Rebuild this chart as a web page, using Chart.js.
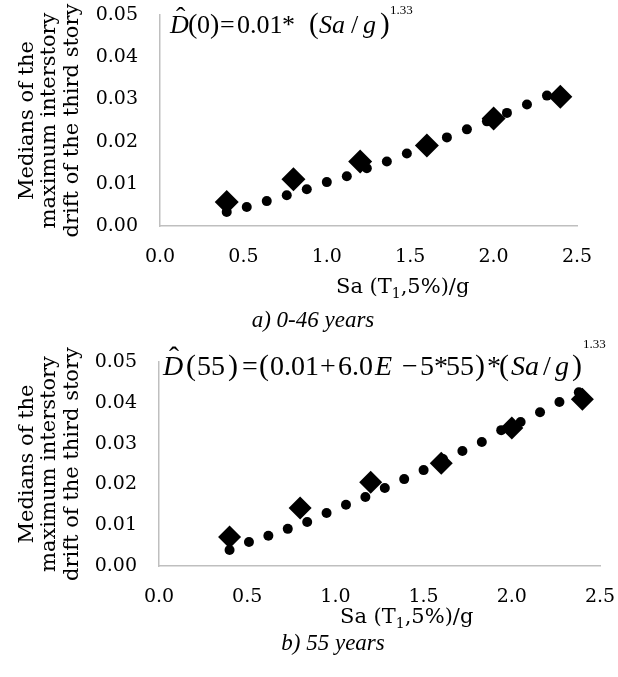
<!DOCTYPE html>
<html>
<head>
<meta charset="utf-8">
<script src="https://cdn.jsdelivr.net/npm/chart.js@4.4.0/dist/chart.umd.min.js"></script>
<style>
body { margin: 0; background: #fff; width: 618px; height: 677px; position: relative; overflow: hidden; }
.box { position: absolute; left: 0; width: 618px; }
</style>
</head>
<body>
<div class="box" style="top:0;height:335px"><canvas id="chartA"></canvas></div>
<div class="box" style="top:335px;height:342px"><canvas id="chartB"></canvas></div>
<script>
// a) 0-46 years
const saFitA = [0.40, 0.52, 0.64, 0.76, 0.88, 1.00, 1.12, 1.24, 1.36, 1.48, 1.60, 1.72, 1.84, 1.96, 2.08, 2.20, 2.32]
const driftFitA = [0.0033, 0.0045, 0.0059, 0.0073, 0.0087, 0.0104, 0.0118, 0.0137, 0.0153, 0.0172, 0.0189, 0.0210, 0.0229, 0.0248, 0.0268, 0.0288, 0.0309]
const saMedA = [0.4, 0.8, 1.2, 1.6, 2.0, 2.4]
const driftMedA = [0.0057, 0.0111, 0.0153, 0.0191, 0.0255, 0.0306]

// b) 55 years
const saFitB = [0.40, 0.51, 0.62, 0.73, 0.84, 0.95, 1.06, 1.17, 1.28, 1.39, 1.50, 1.61, 1.72, 1.83, 1.94, 2.05, 2.16, 2.27, 2.38]
const driftFitB = [0.0039, 0.0059, 0.0074, 0.0091, 0.0108, 0.0130, 0.0150, 0.0169, 0.0191, 0.0213, 0.0235, 0.0262, 0.0282, 0.0304, 0.0333, 0.0353, 0.0377, 0.0402, 0.0426]
const saMedB = [0.4, 0.8, 1.2, 1.6, 2.0, 2.4]
const driftMedB = [0.0071, 0.0142, 0.0205, 0.0252, 0.0338, 0.0409]

const xTicks = [0, 0.5, 1.0, 1.5, 2.0, 2.5]
const yTicks = [0, 0.01, 0.02, 0.03, 0.04, 0.05]
const yTitle = ['Medians of the', 'maximum interstory', 'drift of the third story']

const SERIF = 'DejaVu Serif'
const TIMES = 'Liberation Serif'

// draws free text (equation, axis title, caption) after the chart
const textPlugin = {
    id: 'texts',
    afterDraw(chart, args, opts) {
        const ctx = chart.ctx
        ctx.save()
        ctx.fillStyle = '#000'
        ctx.textBaseline = 'alphabetic'
        let lastX = 0
        for (const p of opts.items || []) {
            ctx.font = (p.it ? 'italic ' : '') + p.sz + 'px "' + (p.fam || TIMES) + '"'
            ctx.textAlign = p.align || 'left'
            let x = p.x === undefined ? lastX : p.x
            ctx.fillText(p.t, x, p.y)
            lastX = x + ctx.measureText(p.t).width
        }
        ctx.restore()
    }
}

function eqItems(list, base, sz, supBase, supSz) {
    let out = []
    list.forEach(e => {
        if (e[3] === 'sup') out.push({t: e[0], x: e[1], y: supBase, sz: supSz})
        else if (e[3] === 'hat') out.push({t: '\u02C6', x: e[1], y: base - e[4], sz: sz + 2})
        else out.push({t: e[0], x: e[1], y: base, sz: e[4] || sz, it: !!e[2]})
    })
    return out
}

function axisTitle(x, y) {
    return [
        {t: 'Sa (T', x: x, y: y, sz: 21, fam: SERIF},
        {t: '1', y: y + 5, sz: 14, fam: SERIF},
        {t: ',5%)/g', y: y, sz: 21, fam: SERIF}
    ]
}

function makeChart(id, o) {
    let ctx = document.getElementById(id)
    return new Chart(ctx, {
        type: 'scatter',
        data: {
            datasets: [{
                data: o.fx.map((v, i) => ({x: v, y: o.fy[i]})),
                pointStyle: 'circle',
                pointRadius: 5,
                backgroundColor: '#000',
                borderWidth: 0
            }, {
                data: o.mx.map((v, i) => ({x: v, y: o.my[i]})),
                pointStyle: 'rectRot',
                pointRadius: o.dia,
                backgroundColor: '#000',
                borderWidth: 0
            }]
        },
        options: {
            responsive: true,
            maintainAspectRatio: false,
            animation: false,
            events: [],
            layout: {padding: {left: 0, right: o.padRight, top: o.padTop, bottom: 0}},
            scales: {
                x: {
                    type: 'linear',
                    min: xTicks[0],
                    max: xTicks[xTicks.length - 1],
                    afterBuildTicks: s => { s.ticks = xTicks.map(v => ({value: v})) },
                    afterFit: s => { s.height = o.xHeight },
                    grid: {color: 'rgba(0,0,0,0)', drawTicks: true, tickLength: 20, tickColor: 'rgba(0,0,0,0)'},
                    border: {display: true, color: '#bfbfbf', width: 1.5},
                    ticks: {
                        padding: 0,
                        color: '#000',
                        font: {family: SERIF, size: 19},
                        callback: v => v.toFixed(1)
                    }
                },
                y: {
                    type: 'linear',
                    min: yTicks[0],
                    max: yTicks[yTicks.length - 1],
                    afterBuildTicks: s => { s.ticks = yTicks.map(v => ({value: v})) },
                    afterFit: s => { s.width = o.yWidth },
                    grid: {color: 'rgba(0,0,0,0)', drawTicks: true, tickLength: 22, tickColor: 'rgba(0,0,0,0)'},
                    border: {display: true, color: '#bfbfbf', width: 1.5},
                    ticks: {
                        padding: 0,
                        color: '#000',
                        font: {family: SERIF, size: 19},
                        callback: v => v.toFixed(2)
                    },
                    title: {
                        display: true,
                        text: yTitle,
                        color: '#000',
                        font: {family: SERIF, size: 21, lineHeight: 1.07},
                        padding: {top: 16, bottom: 0}
                    }
                }
            },
            plugins: {
                legend: {display: false},
                tooltip: {enabled: false},
                texts: {items: o.texts}
            }
        },
        plugins: [textPlugin]
    })
}

// top panel
let textsA = eqItems([
    ['D', 170, 1], ['^', 176, 0, 'hat', 7], ['(', 188, 0, '', 28], ['0', 197], [')', 210, 0, '', 28], ['=', 220],
    ['0.01', 237], ['*', 282], ['(', 309, 0, '', 29], ['Sa', 319, 1], ['/', 351], ['g', 363, 1],
    [')', 380, 0, '', 29], ['1.33', 390, 0, 'sup']
], 33, 26, 14, 13)
textsA = textsA.concat(axisTitle(336, 293))
textsA.push({t: 'a) 0-46 years', x: 313, y: 327, sz: 23, it: true, align: 'center'})

makeChart('chartA', {
    fx: saFitA, fy: driftFitA, mx: saMedA, my: driftMedA, dia: 12,
    padTop: 15, padRight: 41, xHeight: 109, yWidth: 160, texts: textsA
})

// bottom panel (canvas starts at y = 335)
let textsB = eqItems([
    ['D', 163, 1], ['^', 169, 0, 'hat', 8], ['(', 186, 0, '', 30], ['55', 197], [')', 228, 0, '', 30], ['=', 242],
    ['(', 259, 0, '', 30], ['0.01', 270], ['+', 320], ['6.0', 338], ['E', 375, 1], ['\u2212', 402],
    ['5', 420], ['*', 434], ['55', 446], [')', 475, 0, '', 30], ['*', 487], ['(', 499, 0, '', 30],
    ['Sa', 511, 1], ['/', 543], ['g', 555, 1], [')', 572, 0, '', 30], ['1.33', 583, 0, 'sup']
], 40, 28, 13, 13)
textsB = textsB.concat(axisTitle(340, 288))
textsB.push({t: 'b) 55 years', x: 333, y: 315, sz: 23, it: true, align: 'center'})

makeChart('chartB', {
    fx: saFitB, fy: driftFitB, mx: saMedB, my: driftMedB, dia: 11.5,
    padTop: 27, padRight: 18, xHeight: 111, yWidth: 159, texts: textsB
})
</script>
</body>
</html>
